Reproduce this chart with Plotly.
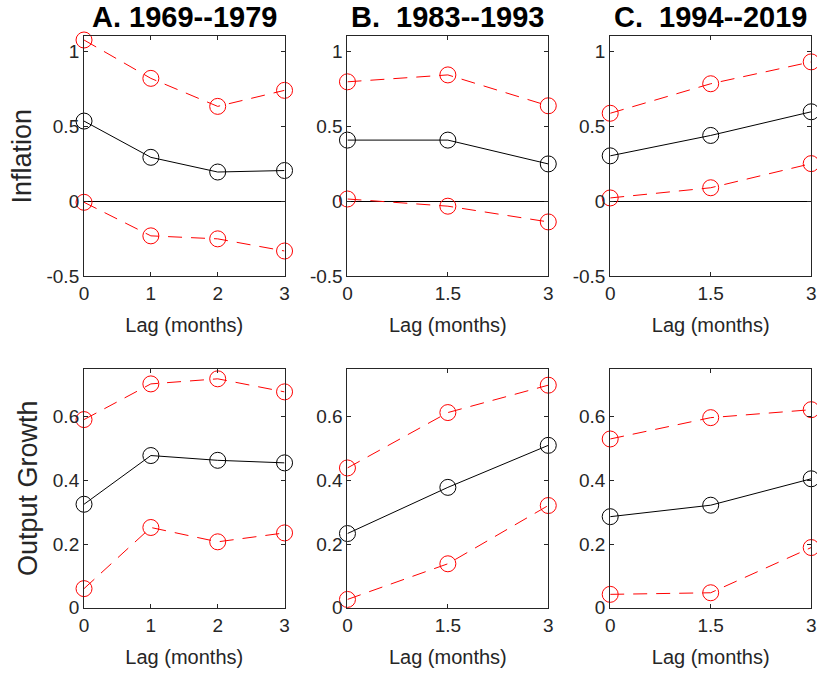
import plotly.graph_objects as go

# ---- data ----
titles = ["A. 1969--1979", "B.  1983--1993", "C.  1994--2019"]
row_labels = ["Inflation", "Output Growth"]
x_lags = [[0, 1, 2, 3], [0, 1.5, 3], [0, 1.5, 3]]
x_ticks = [[0, 1, 2, 3], [0, 1.5, 3], [0, 1.5, 3]]

infl_point = [[0.535, 0.293, 0.195, 0.205], [0.408, 0.408, 0.249], [0.303, 0.439, 0.597]]
infl_upper = [[1.076, 0.82, 0.633, 0.74], [0.797, 0.843, 0.637], [0.587, 0.784, 0.93]]
infl_lower = [[-0.007, -0.231, -0.251, -0.332], [0.015, -0.033, -0.138], [0.022, 0.09, 0.251]]

out_point = [[0.325, 0.478, 0.463, 0.455], [0.233, 0.378, 0.51], [0.286, 0.322, 0.405]]
out_upper = [[0.591, 0.703, 0.719, 0.678], [0.439, 0.613, 0.699], [0.53, 0.597, 0.622]]
out_lower = [[0.06, 0.252, 0.207, 0.235], [0.026, 0.138, 0.321], [0.042, 0.047, 0.189]]

infl_range = [-0.5, 1.1]
infl_ticks = [-0.5, 0, 0.5, 1]
out_range = [0, 0.75]
out_ticks = [0, 0.2, 0.4, 0.6]

W, H = 817, 681
col_px = [(80, 283), (346.7, 550), (612.7, 816.2)]
row_px = [(37, 280.7), (375, 617.7)]

FONT = "Liberation Sans, Arial, Helvetica, sans-serif"
AXC = "#262626"

fig = go.Figure()

rows = [(infl_point, infl_upper, infl_lower, infl_range, infl_ticks),
        (out_point, out_upper, out_lower, out_range, out_ticks)]

idx = 0
for r, (pt, up, lo, yr, yt) in enumerate(rows):
    for c in range(3):
        idx += 1
        xa = "x" if idx == 1 else f"x{idx}"
        ya = "y" if idx == 1 else f"y{idx}"
        xk = "xaxis" if idx == 1 else f"xaxis{idx}"
        yk = "yaxis" if idx == 1 else f"yaxis{idx}"
        for ys, col, dash in [(up[c], "#ff0000", "14px,9px"), (lo[c], "#ff0000", "14px,9px"), (pt[c], "#000000", "solid")]:
            fig.add_trace(go.Scatter(
                x=x_lags[c], y=ys, xaxis=xa, yaxis=ya, mode="lines+markers",
                line=dict(color=col, width=1, dash=dash),
                marker=dict(symbol="circle-open", size=16, color=col, line=dict(width=1, color=col)),
                showlegend=False, hoverinfo="skip", cliponaxis=False))
        x0, x1 = col_px[c]
        y0, y1 = row_px[r]
        fig.layout[xk] = dict(
            domain=[x0 / W, min(x1 / W, 1.0)], anchor=ya, range=[0, 3],
            tickvals=x_ticks[c], ticktext=[str(v) for v in x_ticks[c]],
            ticks="inside", ticklen=4, tickcolor=AXC, mirror="ticks",
            showline=True, linecolor=AXC, linewidth=1, showgrid=False, zeroline=False,
            tickfont=dict(family=FONT, size=19, color=AXC),
            title=dict(text="Lag (months)", font=dict(family=FONT, size=20, color=AXC), standoff=15))
        fig.layout[yk] = dict(
            domain=[1 - y1 / H, 1 - y0 / H], anchor=xa, range=yr,
            tickvals=yt, ticktext=[("%g" % v) for v in yt],
            ticks="inside", ticklen=4, tickcolor=AXC, mirror="ticks",
            showline=True, linecolor=AXC, linewidth=1, showgrid=False,
            zeroline=(r == 0), zerolinecolor="#000000", zerolinewidth=1,
            tickfont=dict(family=FONT, size=19, color=AXC),
            title=dict(text=row_labels[r] if c == 0 else "", font=dict(family=FONT, size=27, color=AXC), standoff=7))

for c in range(3):
    x0, x1 = col_px[c]
    fig.add_annotation(text="<b>%s</b>" % titles[c], xref="paper", yref="paper",
                       x=(x0 + 203 / 2) / W, y=1 - 17 / H, showarrow=False,
                       xanchor="center", yanchor="middle",
                       font=dict(family=FONT, size=29, color="#000000"))

fig.update_layout(width=W, height=H, margin=dict(l=0, r=0, t=0, b=0),
                  plot_bgcolor="white", paper_bgcolor="white")

fig.write_html("out.html")
